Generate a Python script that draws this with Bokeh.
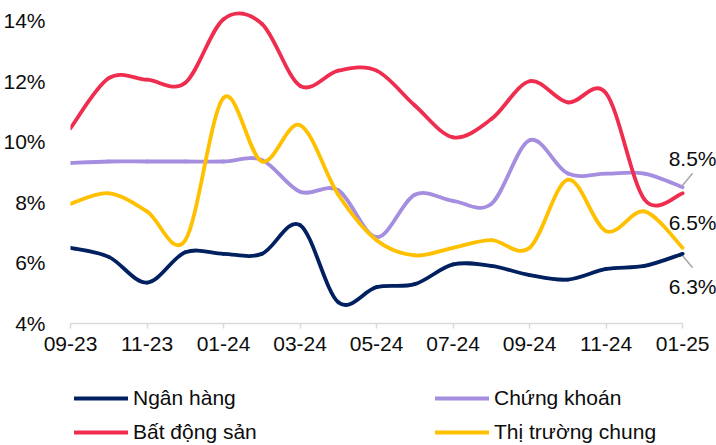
from bokeh.plotting import figure
from bokeh.layouts import column
from bokeh.models import (Range1d, FixedTicker, PrintfTickFormatter, Legend, LegendItem,
                          Label, Arrow, ColumnDataSource)
from bokeh.embed import file_html
from bokeh.resources import INLINE

months = ["09-23", "10-23", "11-23", "12-23", "01-24", "02-24", "03-24", "04-24", "05-24",
          "06-24", "07-24", "08-24", "09-24", "10-24", "11-24", "12-24", "01-25"]
tick_labels = ["09-23", "11-23", "01-24", "03-24", "05-24", "07-24", "09-24", "11-24", "01-25"]

ngan_hang = [6.5, 6.2, 5.35, 6.35, 6.3, 6.3, 7.25, 4.7, 5.2, 5.3, 5.95, 5.9, 5.6, 5.45, 5.8, 5.9, 6.3]
chung_khoan = [9.3, 9.35, 9.35, 9.35, 9.35, 9.4, 8.35, 8.4, 6.85, 8.25, 8.05, 7.95, 10.05, 8.95, 8.95, 8.95, 8.5]
bat_dong_san = [10.45, 12.1, 12.05, 11.95, 14.05, 13.9, 11.85, 12.35, 12.35, 11.2, 10.15, 10.75, 12.0, 11.3, 11.6, 8.1, 8.3]
thi_truong = [7.95, 8.3, 7.7, 6.75, 11.45, 9.35, 10.55, 8.25, 6.75, 6.25, 6.5, 6.75, 6.5, 8.75, 7.05, 7.7, 6.5]

names = ["Ngân hàng", "Chứng khoán", "Bất động sản", "Thị trường chung"]
series = [ngan_hang, chung_khoan, bat_dong_san, thi_truong]
colors = ["#002060", "#A58DDF", "#EE2D4F", "#FFC000"]

FONT = "Liberation Sans"
TXT = "#0d0d0d"

W = 716
H_MAIN = 370
LEFT = 67
FRAME_W = W - LEFT
PLOT_W = 615  # pixels spanned by 09-23 .. 01-25
last = len(months) - 1

p = figure(width=W, height=H_MAIN, output_backend="svg", toolbar_location=None,
           x_range=Range1d(0, last * FRAME_W / PLOT_W), y_range=Range1d(4, 14.6),
           min_border_left=LEFT, min_border_right=0, min_border_top=2, min_border_bottom=H_MAIN - 323)
p.outline_line_color = None
p.xgrid.visible = False
p.ygrid.visible = False
p.background_fill_color = "white"
p.border_fill_color = "white"

# x axis
xa = p.xaxis[0]
xa.bounds = (0, last)
xa.ticker = FixedTicker(ticks=[months.index(t) for t in tick_labels])
xa.major_label_overrides = {months.index(t): t for t in tick_labels}
xa.axis_line_color = "#D9D9D9"
xa.axis_line_width = 1.5
xa.major_tick_line_color = "#D9D9D9"
xa.major_tick_line_width = 1.5
xa.major_tick_in = 0
xa.major_tick_out = 5
xa.minor_tick_line_color = None
xa.major_label_standoff = 8
xa.major_label_text_font = FONT
xa.major_label_text_font_size = "21px"
xa.major_label_text_color = TXT

# y axis
ya = p.yaxis[0]
ya.ticker = FixedTicker(ticks=[4, 6, 8, 10, 12, 14])
ya.formatter = PrintfTickFormatter(format="%d%%")
ya.axis_line_color = None
ya.major_tick_line_color = None
ya.minor_tick_line_color = None
ya.major_label_standoff = 19
ya.major_label_text_font = FONT
ya.major_label_text_font_size = "21px"
ya.major_label_text_color = TXT


def smooth_segments(vals):
    n = len(vals)
    xs = list(range(n))
    d = dict(x0=[], y0=[], x1=[], y1=[], cx0=[], cy0=[], cx1=[], cy1=[])
    for i in range(n - 1):
        a, b = max(i - 1, 0), min(i + 2, n - 1)
        d["x0"].append(xs[i]); d["y0"].append(vals[i])
        d["x1"].append(xs[i + 1]); d["y1"].append(vals[i + 1])
        d["cx0"].append(xs[i] + (xs[i + 1] - xs[a]) / 6.0)
        d["cy0"].append(vals[i] + (vals[i + 1] - vals[a]) / 6.0)
        d["cx1"].append(xs[i + 1] - (xs[b] - xs[i]) / 6.0)
        d["cy1"].append(vals[i + 1] - (vals[b] - vals[i]) / 6.0)
    return ColumnDataSource(d)


for name, vals, col in zip(names, series, colors):
    p.bezier(x0="x0", y0="y0", x1="x1", y1="y1", cx0="cx0", cy0="cy0", cx1="cx1", cy1="cy1",
             source=smooth_segments(vals), line_color=col, line_width=3.8, line_cap="round")

px_x = last / PLOT_W       # data units per pixel (x)
px_y = 10.6 / 321.0        # data units per pixel (y)

end_labels = [(chung_khoan[-1], 29), (thi_truong[-1], 25), (ngan_hang[-1], -33)]
for v, dy in end_labels:
    p.add_layout(Label(x=last, y=v, text=f"{v:.1f}%", x_offset=-14, y_offset=dy,
                       text_align="left", text_baseline="middle", text_font=FONT,
                       text_font_size="21px", text_color=TXT))

for v, sgn in [(chung_khoan[-1], 1), (ngan_hang[-1], -1)]:
    p.add_layout(Arrow(end=None, x_start=last, y_start=v + sgn * 2 * px_y,
                       x_end=last + 10 * px_x, y_end=v + sgn * 14 * px_y,
                       line_color="#A6A6A6", line_width=1.5))

# legend panel (a separate, axis-less strip below the chart)
H_LEG = 445 - H_MAIN
lg = figure(width=W, height=H_LEG, output_backend="svg", toolbar_location=None,
            x_range=Range1d(0, 1), y_range=Range1d(0, 1),
            x_axis_location=None, y_axis_location=None,
            min_border=0, min_border_left=0, min_border_right=0, min_border_top=0, min_border_bottom=0)
lg.grid.visible = False
lg.outline_line_color = None
lg.border_fill_color = "white"

nan = float("nan")
samples = {}
for name, col in zip(names, colors):
    samples[name] = lg.line(x=[nan], y=[nan], line_color=col, line_width=3.8, line_cap="round")

leg_common = dict(label_text_font=FONT, label_text_font_size="21px", label_text_color=TXT,
                  glyph_width=54, glyph_height=22, label_height=22, label_standoff=5,
                  spacing=10, padding=0, margin=0, border_line_color=None,
                  background_fill_alpha=0, orientation="vertical")
leg1 = Legend(items=[LegendItem(label=names[0], renderers=[samples[names[0]]]),
                     LegendItem(label=names[2], renderers=[samples[names[2]]])],
              location=(4, 1), **leg_common)
leg2 = Legend(items=[LegendItem(label=names[1], renderers=[samples[names[1]]]),
                     LegendItem(label=names[3], renderers=[samples[names[3]]])],
              location=(365, 1), **leg_common)
lg.add_layout(leg1, "center")
lg.add_layout(leg2, "center")

layout = column(p, lg, spacing=0)
open("out.html", "w").write(file_html(layout, INLINE))
